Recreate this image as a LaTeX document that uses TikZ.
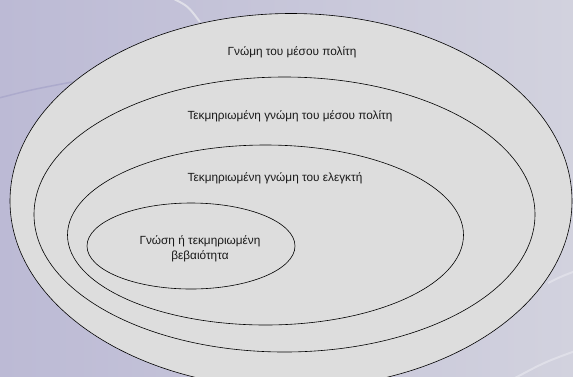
\documentclass[tikz,border=0pt]{standalone}
\usepackage{fontspec}
\setmainfont{Liberation Sans}
\usetikzlibrary{shapes.geometric}
\definecolor{ringfill}{RGB}{221,221,221}
\definecolor{bgleft}{RGB}{188,186,213}
\definecolor{bgright}{RGB}{210,210,222}
\definecolor{swoosh}{RGB}{172,170,204}
\begin{document}
\begin{tikzpicture}[x=1pt, y=-1pt,
    ring/.style={ellipse, draw=black, line width=0.6pt, fill=ringfill, inner sep=0pt},
    caption/.style={font=\fontsize{11.8}{15.5}\selectfont, align=center, text=black!90}]
    % --- BACKGROUND ---
    \clip (0,0) rectangle (573,376);
    \shade[left color=bgleft, right color=bgright] (0,0) rectangle (573,376);
    \draw[swoosh, line width=1.5pt, line cap=round] (-5,99) .. controls (30,90) .. (72,82);
    \draw[white!30!bgright, line width=2pt] (172,-2) .. controls (188,6) .. (200,22);
    \draw[white!30!bgright, line width=2pt] (548,283) .. controls (560,277) .. (578,270);
    \draw[white!30!bgright, line width=2pt] (515,378) .. controls (545,362) .. (578,350);

    % --- NESTED ELLIPSES ---
    \node[ring, minimum width=562pt, minimum height=375pt] (citizen) at (291,201) {};
    \node[ring, minimum width=501pt, minimum height=275pt] (informed) at (284.5,214.5) {};
    \node[ring, minimum width=396pt, minimum height=180pt] (auditor) at (265.5,235) {};
    \node[ring, minimum width=208pt, minimum height=86pt] (certainty) at (191,246) {};

    % --- LABELS ---
    \node[caption] (citizenlbl) at (292,52) {Γνώμη του μέσου πολίτη};
    \node[caption] (informedlbl) at (290,116) {Τεκμηριωμένη γνώμη του μέσου πολίτη};
    \node[caption] (auditorlbl) at (275,178) {Τεκμηριωμένη γνώμη του ελεγκτή};
    \node[caption] (certaintylbl) at (200,249) {Γνώση ή τεκμηριωμένη\\βεβαιότητα};
\end{tikzpicture}
\end{document}
